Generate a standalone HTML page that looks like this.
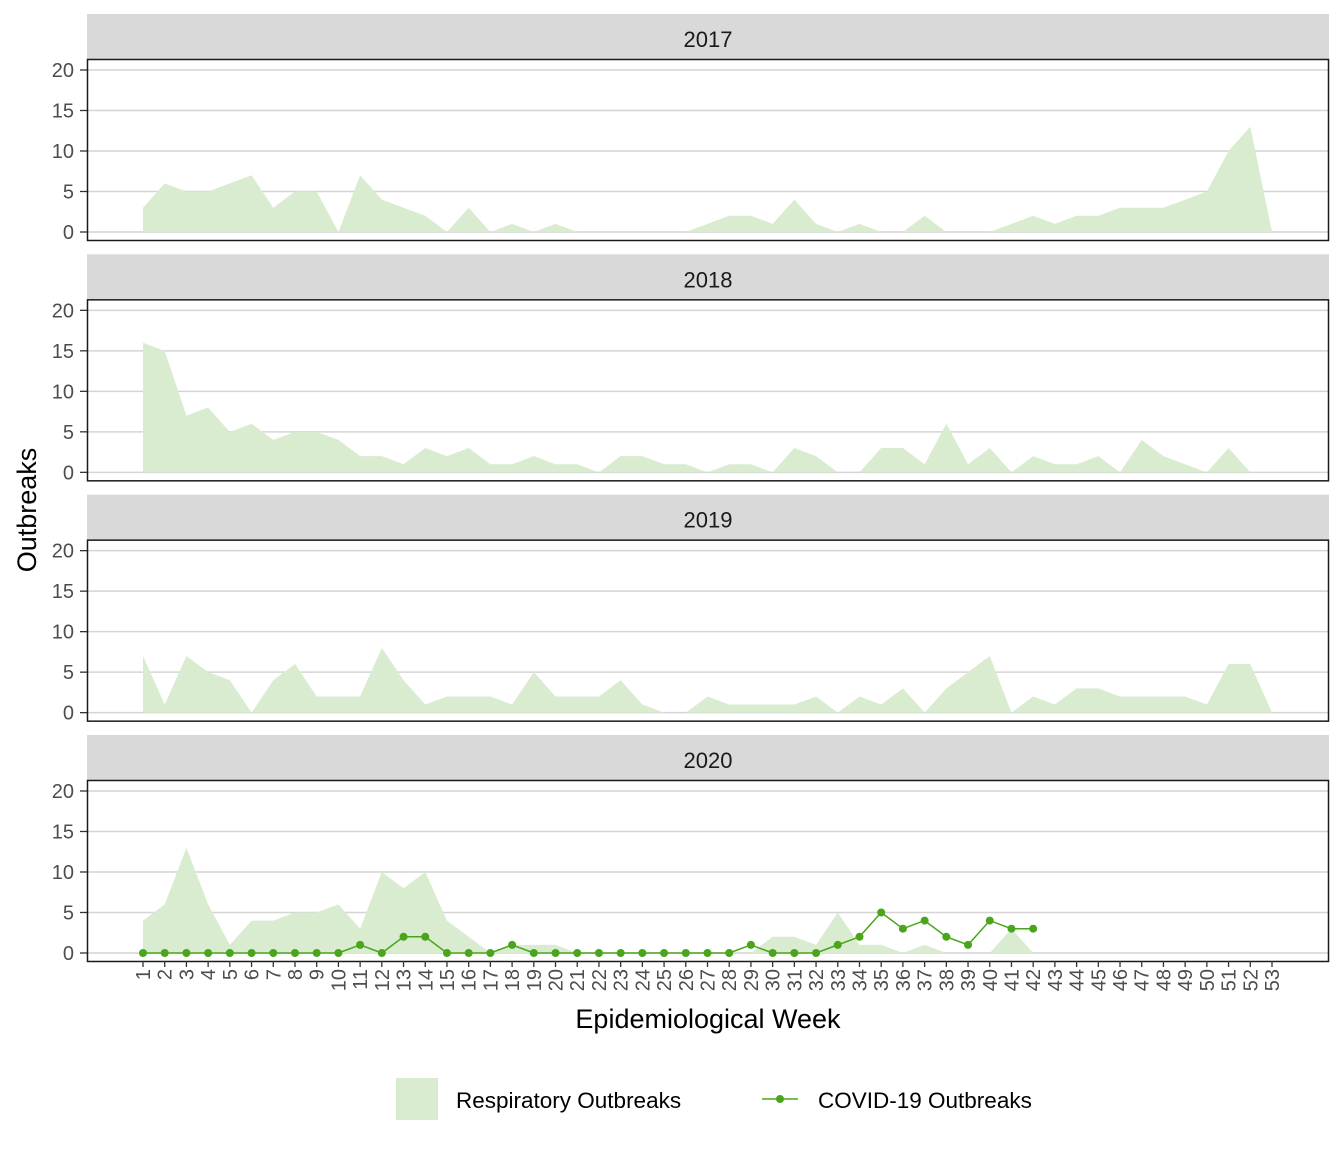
<!DOCTYPE html>
<html><head><meta charset="utf-8"><style>
html,body{margin:0;padding:0;background:#fff;}
svg{display:block;font-family:"Liberation Sans",Arial,sans-serif;}
</style></head><body>
<svg id="s" width="1344" height="1152" xmlns="http://www.w3.org/2000/svg"></svg>
<script>
const S=document.getElementById('s');let h='';
const x0=143,dx=(1272-143)/52;
const X=w=>x0+(w-1)*dx;
const data={
2017:[3,6,5,5,6,7,3,5,5,0,7,4,3,2,0,3,0,1,0,1,0,0,0,0,0,0,1,2,2,1,4,1,0,1,0,0,2,0,0,0,1,2,1,2,2,3,3,3,4,5,10,13,0],
2018:[16,15,7,8,5,6,4,5,5,4,2,2,1,3,2,3,1,1,2,1,1,0,2,2,1,1,0,1,1,0,3,2,0,0,3,3,1,6,1,3,0,2,1,1,2,0,4,2,1,0,3,0],
2019:[7,1,7,5,4,0,4,6,2,2,2,8,4,1,2,2,2,1,5,2,2,2,4,1,0,0,2,1,1,1,1,2,0,2,1,3,0,3,5,7,0,2,1,3,3,2,2,2,2,1,6,6,0],
2020:[4,6,13,6,1,4,4,5,5,6,3,10,8,10,4,2,0,1,1,1,0,0,0,0,0,0,0,0,0,2,2,1,5,1,1,0,1,0,0,0,3,0]};
const covid=[0,0,0,0,0,0,0,0,0,0,1,0,2,2,0,0,0,1,0,0,0,0,0,0,0,0,0,0,1,0,0,0,1,2,5,3,4,2,1,4,3,3];
const years=[2017,2018,2019,2020];
years.forEach((yr,i)=>{
 const off=i*240.33;
 const st=14+off,pt=59+off,pb=240+off,y0=232+off,y20=70+off;
 const Y=v=>y0+(y20-y0)*v/20;
 h+=`<rect x="87" y="${st}" width="1242" height="${pt-st}" fill="#d9d9d9"/>`;
 h+=`<text x="708" y="${st+33}" font-size="22" text-anchor="middle" fill="#1a1a1a">${yr}</text>`;
 for(let v=0;v<=20;v+=5){const y=Y(v);
  h+=`<line x1="87" x2="1329" y1="${y}" y2="${y}" stroke="#d4d4d4" stroke-width="1.5"/>`;
  h+=`<line x1="80" x2="87" y1="${y}" y2="${y}" stroke="#333" stroke-width="1.3"/>`;
  h+=`<text x="74" y="${y+7}" font-size="20" text-anchor="end" fill="#4d4d4d">${v}</text>`;}
 const d=data[yr];let p=`M${X(1)},${Y(0)}`;
 d.forEach((v,k)=>p+=` L${X(k+1)},${Y(v)}`);p+=` L${X(d.length)},${Y(0)}Z`;
 h+=`<path d="${p}" fill="#d9ecd0"/>`;
 if(yr==2020){let q='';covid.forEach((v,k)=>q+=(k?' L':'M')+X(k+1)+','+Y(v));
  h+=`<path d="${q}" fill="none" stroke="#4aa51c" stroke-width="1.5"/>`;
  covid.forEach((v,k)=>h+=`<circle cx="${X(k+1)}" cy="${Y(v)}" r="4" fill="#4aa51c"/>`);}
 h+=`<rect x="87.5" y="${pt+0.5}" width="1241" height="${pb-pt}" fill="none" stroke="#1a1a1a" stroke-width="1.5"/>`;
});
for(let w=1;w<=53;w++){const x=X(w);
 h+=`<line x1="${x}" x2="${x}" y1="961" y2="967" stroke="#333" stroke-width="1.3"/>`;
 h+=`<text transform="translate(${x+7},969) rotate(-90)" font-size="20" text-anchor="end" fill="#4d4d4d">${w}</text>`;}
h+=`<text x="708" y="1028" font-size="27" text-anchor="middle" fill="#000">Epidemiological Week</text>`;
h+=`<text transform="translate(36,510) rotate(-90)" font-size="27" text-anchor="middle" fill="#000">Outbreaks</text>`;
h+=`<rect x="396" y="1078" width="42" height="42" fill="#d9ecd0"/>`;
h+=`<text x="456" y="1108" font-size="22.5" fill="#000">Respiratory Outbreaks</text>`;
h+=`<line x1="762" x2="798" y1="1099" y2="1099" stroke="#4aa51c" stroke-width="1.5"/><circle cx="780" cy="1099" r="4" fill="#4aa51c"/>`;
h+=`<text x="818" y="1108" font-size="22.5" fill="#000">COVID-19 Outbreaks</text>`;
S.innerHTML=h;
</script>
</body></html>
